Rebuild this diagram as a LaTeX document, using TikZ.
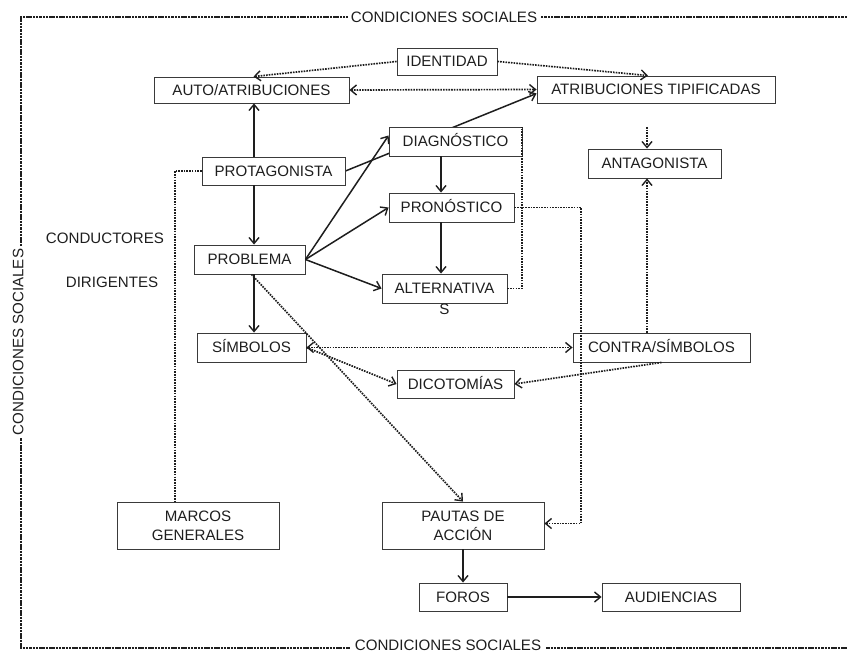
\documentclass[tikz,border=0pt]{standalone}
\usepackage{fontspec}
\setmainfont{Liberation Sans}
\usetikzlibrary{arrows.meta,calc}
\pgfdeclarelayer{bg}
\pgfsetlayers{bg,main}
\definecolor{ink}{HTML}{1E1E1E}
\definecolor{edge}{HTML}{3A3A3A}
\begin{document}
\begin{tikzpicture}[x=1bp,y=-1bp,
  every node/.style={font=\fontsize{15.1bp}{19bp}\selectfont, text=ink},
  box/.style={draw=edge, line width=0.9bp, fill=white, inner sep=0pt, align=center},
  one/.style={text height=10.8bp, text depth=0bp},
  tip/.tip={Straight Barb[length=6bp,width=10bp,line width=1.4bp]},
  sol/.style={line width=1.5bp, draw=ink, -tip},
  dots/.style={line width=1.7bp, draw=ink, dash pattern=on 1.6bp off 1.1bp},
  darr/.style={dots, -tip},
  ddarr/.style={dots, tip-tip},
  framel/.style={line width=1.7bp, draw=ink, dash pattern=on 2.5bp off 0.8bp},
  lbl/.style={fill=white, inner xsep=3bp, inner ysep=1bp, one}]
\useasboundingbox (0,0) rectangle (847,654);

% nodes
\node[box, one, minimum width=100bp, minimum height=27bp] (iden) at (447,61.5) {IDENTIDAD};
\node[box, one, minimum width=195bp, minimum height=26bp] (auto) at (251.5,90) {AUTO/ATRIBUCIONES};
\node[box, one, minimum width=238bp, minimum height=27bp] (atrib) at (656,89.5) {ATRIBUCIONES TIPIFICADAS};
\node[box, one, minimum width=143bp, minimum height=28bp] (protag) at (273.5,171) {PROTAGONISTA};
\node[box, one, minimum width=133bp, minimum height=29bp] (diag) at (455.5,141.5) {DIAGNÓSTICO};
\node[box, one, minimum width=133bp, minimum height=29bp] (antag) at (654.5,163.5) {ANTAGONISTA};
\node[box, one, minimum width=125bp, minimum height=29bp] (pron) at (451.5,207.5) {PRONÓSTICO};
\node[box, one, minimum width=111bp, minimum height=29bp] (prob) at (249.5,259.5) {PROBLEMA};
\node[box, one, minimum width=125bp, minimum height=29bp,
      label={[inner sep=0pt, one]below:S}] (alt) at (444.5,288.5) {ALTERNATIVA};
\node[box, one, minimum width=109bp, minimum height=29bp] (simb) at (251.5,347.5) {SÍMBOLOS};
\node[box, one, minimum width=177bp, minimum height=29bp] (contra) at (661.5,347.5) {CONTRA/SÍMBOLOS};
\node[box, one, minimum width=117bp, minimum height=28bp] (dicot) at (455.5,384) {DICOTOMÍAS};
\node[box, minimum width=162bp, minimum height=47bp] (marcos) at (198,525.5) {MARCOS\\GENERALES};
\node[box, minimum width=162bp, minimum height=47bp] (pautas) at (463,525.5) {PAUTAS DE\\ACCIÓN};
\node[box, one, minimum width=88bp, minimum height=28bp] (foros) at (463,597) {FOROS};
\node[box, one, minimum width=138bp, minimum height=28bp] (aud) at (671,597) {AUDIENCIAS};
\node[one] (cond) at (105,238) {CONDUCTORES};
\node[one] (dirig) at (112,282) {DIRIGENTES};

% frame
\node[lbl] (ctop) at (444,17) {CONDICIONES SOCIALES};
\node[lbl, inner xsep=5bp] (cbot) at (448,645.5) {CONDICIONES SOCIALES};
\node[lbl, rotate=90] (cleft) at (18,342) {CONDICIONES SOCIALES};
\coordinate (tl) at (21,17);
\coordinate (tr) at (847,17);
\coordinate (bl) at (21,648);
\coordinate (br) at (847,648);

% helper columns
\coordinate (cx1) at (254,0);
\coordinate (cx2) at (441,0);
\coordinate (cx3) at (581,0);
\coordinate (cx4) at (647,0);
\coordinate (cx5) at (175,0);
\coordinate (cx6) at (522,0);
\coordinate (atstart) at (647,127);

\begin{pgfonlayer}{bg}
  \draw[framel] (tr) -- (tl) -- (bl) -- (br);
  \draw[sol] (protag.east) -- ($(atrib.west)+(0,4)$);
\end{pgfonlayer}

% connectors
\draw[darr] (iden.west) -- ([xshift=2bp]auto.north);
\draw[darr] (iden.east) -- ([xshift=-8bp]atrib.north);
\draw[ddarr] (auto.east) -- (atrib.west);
\draw[sol] (protag.north -| cx1) -- (auto.south -| cx1);
\draw[sol] (protag.south -| cx1) -- (prob.north -| cx1);
\draw[sol] (prob.south -| cx1) -- (simb.north -| cx1);
\draw[sol] (prob.east) -- ($(diag.west)+(0,-6)$);
\draw[sol] (prob.east) -- (pron.west);
\draw[sol] (prob.east) -- (alt.west);
\draw[sol] (diag.south -| cx2) -- (pron.north -| cx2);
\draw[sol] (pron.south -| cx2) -- (alt.north -| cx2);
\draw[dots] (alt.east) -- (alt.east -| cx6) -- (diag.north -| cx6);
\draw[darr] (pron.east) -- (pron.east -| cx3) -- ($(pautas.east -| cx3)+(0,-2)$) -- ($(pautas.east)+(0,-2)$);
\draw[darr] ([xshift=2bp]prob.south) -- (pautas.north);
\draw[ddarr] (simb.east) -- (contra.west);
\draw[darr] (simb.east) -- (dicot.west);
\draw[darr] (contra.south) -- (dicot.east);
\draw[darr] (contra.north -| cx4) -- (antag.south -| cx4);
\draw[darr] (atstart) -- (antag.north -| cx4);
\draw[dots] (protag.west) -- (protag.west -| cx5) -- (marcos.north -| cx5);
\draw[sol] (pautas.south) -- (foros.north);
\draw[sol] (foros.east) -- (aud.west);
\end{tikzpicture}
\end{document}
